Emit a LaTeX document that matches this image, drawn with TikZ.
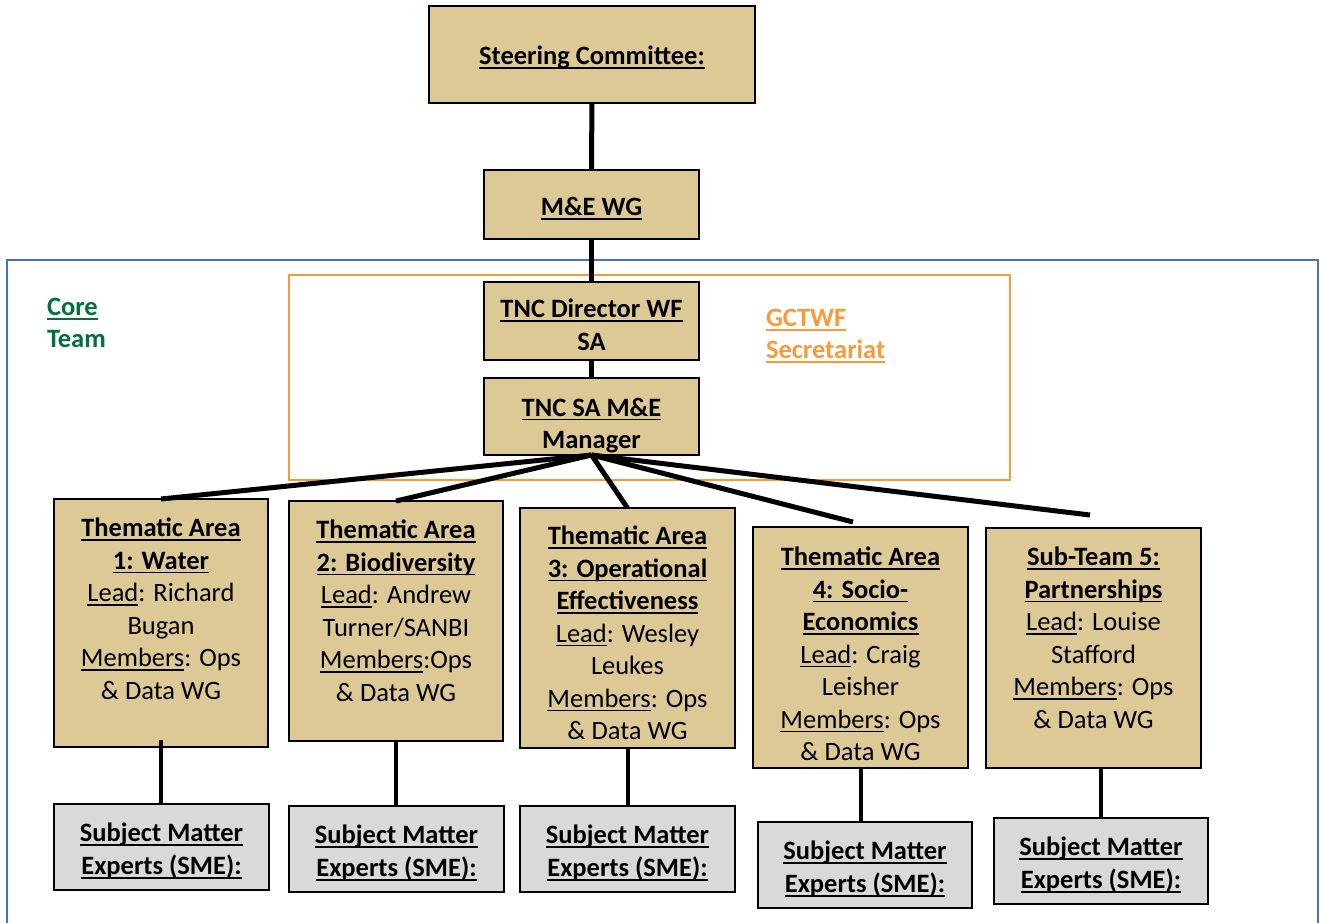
\documentclass[tikz,border=0pt]{standalone}
\usepackage{fontspec}
\setmainfont{Carlito}
\usepackage{tikz}
\usetikzlibrary{positioning}
\definecolor{boxtan}{HTML}{DCC995}
\definecolor{smegrey}{HTML}{D9D9D9}
\definecolor{coreblue}{HTML}{4472C4}
\definecolor{secorange}{HTML}{F79A3C}
\definecolor{coregreen}{HTML}{00703C}
\newcommand{\uln}[1]{\setbox0\hbox{#1}\rlap{\rule[-4.2pt]{\wd0}{1.7pt}}\box0}
\newcommand{\headln}[1]{\textbf{\uln{#1}}}
\tikzstyle{chart}=[x=1pt, y=-1pt, font=\fontsize{26.5}{32.5}\selectfont,
                every node/.style={inner sep=0, outer sep=0, align=center}]
\tikzstyle{tanbox}=[draw=black, line width=2pt, fill=boxtan]
\tikzstyle{smebox}=[draw=black, line width=2pt, fill=smegrey,
                minimum width=215pt, minimum height=86pt]
\tikzstyle{tabox}=[tanbox, minimum width=214pt, minimum height=240pt]
\tikzstyle{link}=[line width=5pt]
\tikzstyle{drop}=[line width=4pt]

\begin{document}
\begin{tikzpicture}[chart]
\useasboundingbox (0,0) rectangle (1320,922);
% frames
\draw[coreblue, line width=2pt] (7,940) -- (7,260) -- (1318,260) -- (1318,940);
\draw[secorange, line width=2pt] (289,275) rectangle (1010,480);
\node[anchor=north west, align=left, text=coregreen, font=\fontsize{26.5}{32.5}\selectfont\bfseries]
  (core) at (47,298) {\uln{Core}\\Team};
\node[anchor=north west, align=left, text=secorange, font=\fontsize{26.5}{32.5}\selectfont\bfseries]
  (sec) at (766,309) {\uln{GCTWF}\\\uln{Secretariat}};
% top of the chart
\node[tanbox, minimum width=326pt, minimum height=97pt] (steer) at (592,54.5) {};
\node[tanbox, minimum width=215pt, minimum height=69pt] (mewg) at (591.5,204.5) {};
\node[tanbox, minimum width=215pt, minimum height=78pt] (dir) at (591.5,321) {};
\node[tanbox, minimum width=215pt, minimum height=77pt] (mgr) at (591.5,416.5) {};
\node (steert) at ([yshift=-3pt]steer) {\headln{Steering Committee:}};
\node (mewgt) at ([yshift=-4pt]mewg) {\headln{M\&E WG}};
\node (dirt) at ([yshift=-4pt]dir) {\headln{TNC Director WF}\\\textbf{SA}};
\node (mgrt) at ([yshift=-9pt]mgr) {\headln{TNC SA M\&E}\\\textbf{Manager}};
\coordinate (t4) at (853,522);
\coordinate (t5) at (1090,515);
% thematic areas
\node[tabox, minimum height=248pt] (ta1) at (161,623) {};
\node[tabox] (ta2) at (396,621) {};
\node[tabox, minimum width=215pt] (ta3) at (627.5,628) {};
\node[tabox, minimum width=215pt, minimum height=241pt] (ta4) at (860.5,647.5) {};
\node[tabox, minimum width=215pt] (ta5) at (1093.5,648) {};
\path[link]
  (steer) edge (mewg)
  (mewg) edge (dir)
  (dir) edge (mgr)
  (mgr.south) edge (ta1.north)
  (mgr.south) edge (ta2.north)
  (mgr.south) edge (ta3.north)
  (mgr.south) edge (t4)
  (mgr.south) edge (t5);
\node[anchor=north] (ta1t) at ([yshift=-19pt]ta1.north)
  {\headln{Thematic Area}\\\headln{1: Water}\\\uln{Lead}: Richard\\Bugan\\\uln{Members}: Ops\\\& Data WG};
\node[anchor=north] (ta2t) at ([yshift=-19pt]ta2.north)
  {\headln{Thematic Area}\\\headln{2: Biodiversity}\\\uln{Lead}: Andrew\\Turner/SANBI\\\uln{Members}:Ops\\\& Data WG};
\node[anchor=north] (ta3t) at ([yshift=-18pt]ta3.north)
  {\headln{Thematic Area}\\\headln{3: Operational}\\\headln{Effectiveness}\\\uln{Lead}: Wesley\\Leukes\\\uln{Members}: Ops\\\& Data WG};
\node[anchor=north] (ta4t) at ([yshift=-20pt]ta4.north)
  {\headln{Thematic Area}\\\headln{4: Socio-}\\\headln{Economics}\\\uln{Lead}: Craig\\Leisher\\\uln{Members}: Ops\\\& Data WG};
\node[anchor=north] (ta5t) at ([yshift=-19pt]ta5.north)
  {\headln{Sub-Team 5:}\\\headln{Partnerships}\\\uln{Lead}: Louise\\Stafford\\\uln{Members}: Ops\\\& Data WG};
% subject matter experts
\node[smebox] (s1) at (161.5,847) {};
\node[smebox] (s2) at (396.5,849) {};
\node[smebox] (s3) at (627.5,849) {};
\node[smebox, minimum width=214pt] (s4) at (865,865) {};
\node[smebox, minimum width=214pt] (s5) at (1101,861) {};
\foreach \s in {s1,s2,s3,s4,s5}
  \node (\s t) at ([yshift=-4pt]\s) {\headln{Subject Matter}\\\headln{Experts (SME):}};
\path[drop]
  ([yshift=7pt]ta1.south) edge (ta1.south |- s1.north)
  (ta2.south) edge (ta2.south |- s2.north)
  (ta3.south) edge (ta3.south |- s3.north)
  (ta4.south) edge (ta4.south |- s4.north)
  (s5.north |- ta5.south) edge (s5.north);
\end{tikzpicture}
\end{document}
